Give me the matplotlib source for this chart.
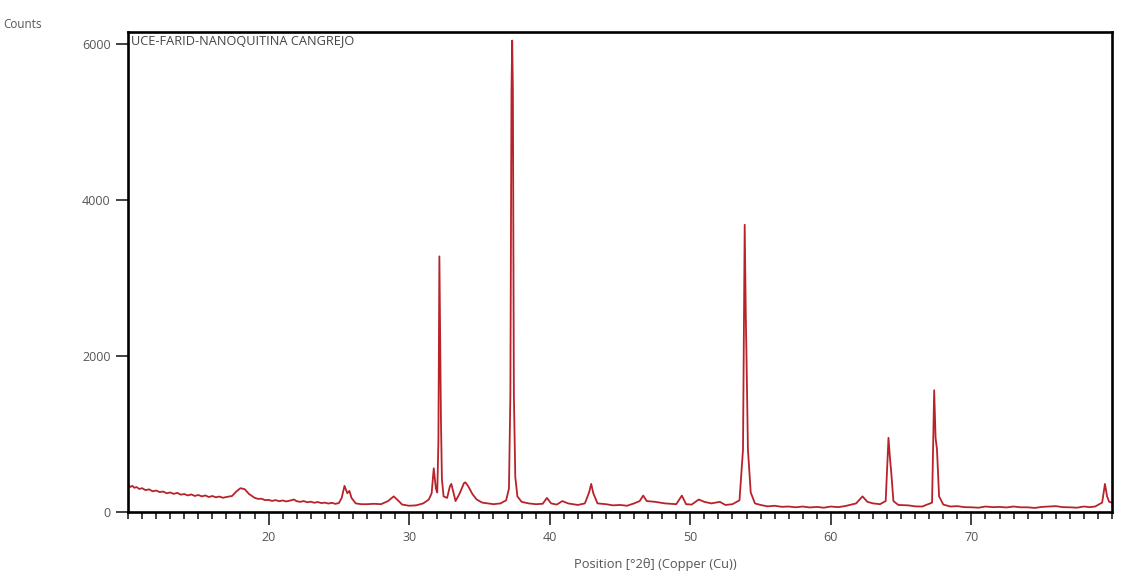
import matplotlib
matplotlib.use('Agg')
from matplotlib import pyplot as plt
from matplotlib.ticker import MultipleLocator

plt.rcParams['font.family'] = ['Open Sans', 'DejaVu Sans']

# 2theta positions (deg) and counts
two_theta = [10.0, 10.15, 10.3, 10.45, 10.6, 10.8, 11.0, 11.25, 11.5, 11.75, 12.0, 12.25,
             12.5, 12.75, 13.0, 13.25, 13.5, 13.75, 14.0, 14.25, 14.5, 14.75, 15.0, 15.25,
             15.5, 15.75, 16.0, 16.25, 16.5, 16.75, 17.0, 17.4, 17.7, 18.0, 18.3, 18.6,
             19.0, 19.25, 19.5, 19.75, 20.0, 20.25, 20.5, 20.75, 21.0, 21.25, 21.5, 21.8,
             22.0, 22.25, 22.5, 22.75, 23.0, 23.25, 23.5, 23.75, 24.0, 24.25, 24.5, 24.75,
             25.0, 25.2, 25.4, 25.6, 25.75, 25.9, 26.2, 26.6, 27.0, 27.5, 28.0, 28.5,
             28.9, 29.2, 29.5, 30.0, 30.5, 31.0, 31.4, 31.6, 31.75, 31.9, 32.0, 32.08,
             32.15, 32.2, 32.26, 32.33, 32.45, 32.7, 32.9, 33.0, 33.15, 33.3, 33.6, 33.9,
             34.0, 34.2, 34.5, 34.8, 35.2, 35.6, 36.0, 36.5, 36.9, 37.1, 37.2, 37.28,
             37.33, 37.38, 37.45, 37.55, 37.7, 38.0, 38.5, 39.0, 39.5, 39.8, 40.1, 40.5,
             40.9, 41.3, 42.0, 42.5, 42.8, 42.95, 43.1, 43.4, 44.0, 44.5, 45.0, 45.5,
             46.0, 46.4, 46.65, 46.9, 47.5, 48.2, 49.0, 49.4, 49.7, 50.1, 50.6, 51.0,
             51.5, 52.1, 52.5, 53.0, 53.5, 53.75, 53.87, 53.95, 54.0, 54.1, 54.3, 54.6,
             55.0, 55.5, 56.0, 56.5, 57.0, 57.5, 58.0, 58.5, 59.0, 59.5, 60.0, 60.5,
             61.0, 61.8, 62.25, 62.6, 63.0, 63.5, 63.9, 64.1, 64.2, 64.3, 64.45, 64.8,
             65.5, 66.0, 66.5, 67.2, 67.35, 67.45, 67.55, 67.7, 68.0, 68.5, 69.0, 69.5,
             70.0, 70.5, 71.0, 71.5, 72.0, 72.5, 73.0, 73.5, 74.0, 74.5, 75.0, 75.5,
             76.0, 76.5, 77.0, 77.5, 78.0, 78.4, 78.8, 79.3, 79.5, 79.65, 79.8, 80.0]
counts = [350, 320, 335, 310, 320, 295, 305, 280, 290, 265, 275, 255,
          262, 240, 250, 232, 245, 222, 230, 212, 225, 205, 218, 200,
          212, 192, 205, 188, 198, 182, 192, 205, 262, 305, 292, 232,
          182, 168, 170, 152, 155, 142, 152, 138, 148, 135, 145, 160,
          138, 130, 140, 124, 132, 118, 128, 114, 120, 108, 118, 104,
          115, 180, 335, 240, 270, 180, 110, 100, 100, 105, 100, 140,
          200, 150, 95, 80, 85, 110, 160, 240, 560, 300, 250, 900,
          3275, 2380, 1200, 420, 200, 180, 330, 360, 250, 140, 240, 370,
          380, 330, 230, 160, 120, 110, 100, 110, 150, 300, 1500, 5400,
          6040, 5400, 1500, 450, 200, 130, 110, 100, 105, 180, 110, 95,
          140, 110, 90, 110, 250, 360, 240, 110, 100, 85, 90, 80,
          110, 140, 210, 140, 130, 110, 100, 210, 100, 95, 160, 130,
          110, 130, 90, 100, 150, 800, 3680, 2500, 1980, 800, 250, 110,
          90, 72, 80, 66, 70, 60, 70, 58, 65, 55, 70, 62,
          75, 110, 200, 130, 110, 100, 140, 950, 700, 500, 140, 90,
          85, 72, 70, 120, 1560, 950, 800, 200, 95, 70, 75, 62,
          60, 55, 70, 62, 65, 58, 70, 60, 60, 52, 65, 70,
          75, 62, 60, 55, 70, 62, 70, 120, 360, 200, 130, 120]

sample_name = 'UCE-FARID-NANOQUITINA CANGREJO'

fig = plt.figure(figsize=(11.37, 5.86), dpi=100)
ax = fig.add_axes([0.1126, 0.1263, 0.8654, 0.8191])

ax.plot(two_theta, counts, color='#B8232A', linewidth=1.3)

ax.set_xlim(10, 80)
ax.set_ylim(0, 6150)

ax.set_xticks([20, 30, 40, 50, 60, 70])
ax.xaxis.set_minor_locator(MultipleLocator(1))
ax.set_yticks([0, 2000, 4000, 6000])

ax.tick_params(axis='both', which='major', direction='out', length=9, width=1.3,
               colors='#333333', labelcolor='#555555', labelsize=9)
ax.tick_params(axis='x', which='minor', direction='out', length=5, width=1.3,
               colors='#333333')
ax.tick_params(axis='x', which='major', pad=5)

for sp in ax.spines.values():
    sp.set_linewidth(1.9)
    sp.set_color('black')

ax.text(0.003, 0.995, sample_name, transform=ax.transAxes, ha='left', va='top',
        fontsize=9.2, color='#444444')

ax.set_xlabel('Position [°2θ] (Copper (Cu))', fontsize=9.3, color='#555555')
ax.xaxis.set_label_coords(0.536, -0.095)
fig.text(0.003, 0.958, 'Counts', fontsize=8.4, color='#555555', ha='left', va='center')

fig.savefig('out.png', dpi=100)
